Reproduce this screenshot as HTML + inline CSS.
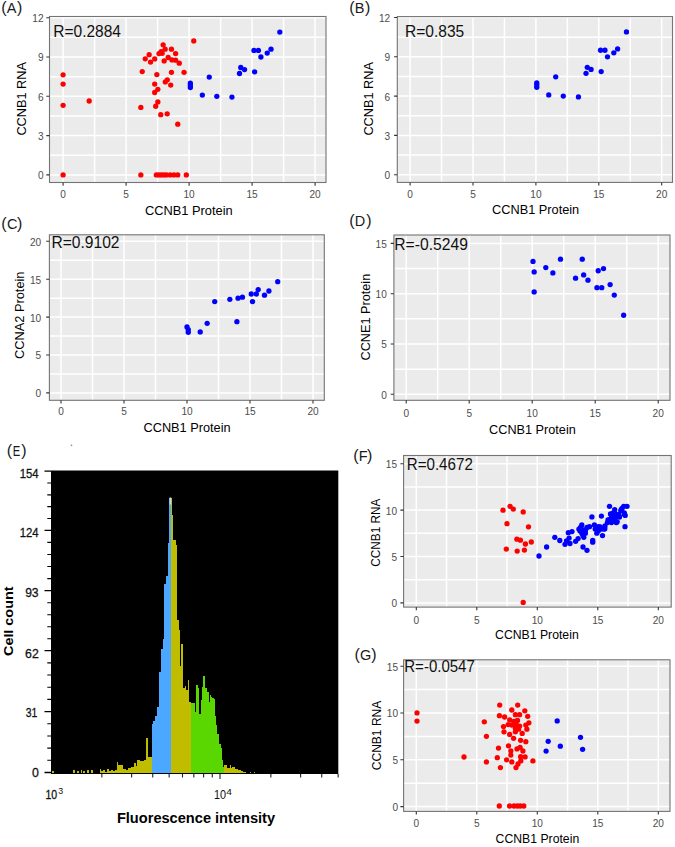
<!DOCTYPE html><html><head><meta charset="utf-8"><style>html,body{margin:0;padding:0;background:#fff;}svg{display:block;}</style></head><body>
<svg width="675" height="847" viewBox="0 0 675 847" font-family='"Liberation Sans", sans-serif'>
<rect width="675" height="847" fill="#fff"/>
<rect x="49.5" y="16.5" width="276.5" height="166" fill="#ebebeb"/>
<path d="M94.6 16.5V182.5M157.6 16.5V182.5M220.6 16.5V182.5M283.6 16.5V182.5M63.1 16.5V182.5M126.1 16.5V182.5M189.1 16.5V182.5M252.1 16.5V182.5M315.1 16.5V182.5M49.5 155.25H326M49.5 115.95H326M49.5 76.65H326M49.5 37.35H326M49.5 174.9H326M49.5 135.6H326M49.5 96.3H326M49.5 57H326M49.5 17.7H326" stroke="#ffffff" stroke-width="1.5" fill="none"/>
<g fill="#ff0000"><circle cx="63.1" cy="74.82" r="2.65"/><circle cx="63.1" cy="84.12" r="2.65"/><circle cx="63.1" cy="105.34" r="2.65"/><circle cx="89.18" cy="101.02" r="2.65"/><circle cx="63.1" cy="174.9" r="2.65"/><circle cx="193.76" cy="40.89" r="2.65"/><circle cx="163.14" cy="44.82" r="2.65"/><circle cx="165.16" cy="49.14" r="2.65"/><circle cx="171.46" cy="49.14" r="2.65"/><circle cx="175.62" cy="53.59" r="2.65"/><circle cx="149.16" cy="54.64" r="2.65"/><circle cx="161.13" cy="51.76" r="2.65"/><circle cx="158.99" cy="53.59" r="2.65"/><circle cx="162.14" cy="53.33" r="2.65"/><circle cx="145.25" cy="58.83" r="2.65"/><circle cx="154.7" cy="58.97" r="2.65"/><circle cx="150.54" cy="62.11" r="2.65"/><circle cx="164.15" cy="60.93" r="2.65"/><circle cx="168.18" cy="57.52" r="2.65"/><circle cx="171.96" cy="59.88" r="2.65"/><circle cx="175.62" cy="60.14" r="2.65"/><circle cx="179.27" cy="63.16" r="2.65"/><circle cx="142.23" cy="71.54" r="2.65"/><circle cx="156.84" cy="74.55" r="2.65"/><circle cx="171.46" cy="72.33" r="2.65"/><circle cx="184.06" cy="72.33" r="2.65"/><circle cx="167.3" cy="79.79" r="2.65"/><circle cx="165.29" cy="81.89" r="2.65"/><circle cx="170.7" cy="85.03" r="2.65"/><circle cx="154.7" cy="84.12" r="2.65"/><circle cx="157.85" cy="89.36" r="2.65"/><circle cx="154.7" cy="92.5" r="2.65"/><circle cx="157.85" cy="101.93" r="2.65"/><circle cx="155.71" cy="106.26" r="2.65"/><circle cx="140.84" cy="107.44" r="2.65"/><circle cx="160.75" cy="114.64" r="2.65"/><circle cx="167.18" cy="113.85" r="2.65"/><circle cx="177.76" cy="124.2" r="2.65"/><circle cx="140.84" cy="174.9" r="2.65"/><circle cx="156.34" cy="174.9" r="2.65"/><circle cx="158.86" cy="174.9" r="2.65"/><circle cx="161.38" cy="174.9" r="2.65"/><circle cx="163.9" cy="174.9" r="2.65"/><circle cx="166.42" cy="174.9" r="2.65"/><circle cx="170.2" cy="174.9" r="2.65"/><circle cx="173.98" cy="174.9" r="2.65"/><circle cx="177.76" cy="174.9" r="2.65"/><circle cx="186.33" cy="174.9" r="2.65"/></g>
<g fill="#0000ff"><circle cx="279.82" cy="32.11" r="2.65"/><circle cx="253.99" cy="50.45" r="2.65"/><circle cx="258.4" cy="50.45" r="2.65"/><circle cx="271" cy="49.14" r="2.65"/><circle cx="267.22" cy="53.07" r="2.65"/><circle cx="260.92" cy="57" r="2.65"/><circle cx="240.76" cy="67.48" r="2.65"/><circle cx="244.54" cy="69.58" r="2.65"/><circle cx="239.5" cy="73.51" r="2.65"/><circle cx="254.62" cy="71.8" r="2.65"/><circle cx="209.26" cy="77.04" r="2.65"/><circle cx="190.36" cy="83.2" r="2.65"/><circle cx="190.36" cy="85.17" r="2.65"/><circle cx="190.36" cy="87.52" r="2.65"/><circle cx="202.33" cy="95.12" r="2.65"/><circle cx="216.82" cy="96.3" r="2.65"/><circle cx="231.94" cy="97.09" r="2.65"/></g>
<rect x="49.5" y="16.5" width="276.5" height="166" fill="none" stroke="#747474" stroke-width="1.1"/>
<path d="M63.1 182.5V185.7M126.1 182.5V185.7M189.1 182.5V185.7M252.1 182.5V185.7M315.1 182.5V185.7M46.3 174.9H49.5M46.3 135.6H49.5M46.3 96.3H49.5M46.3 57H49.5M46.3 17.7H49.5" stroke="#333333" stroke-width="1.1" fill="none"/>
<text x="63.1" y="197.9" font-size="10.1" fill="#4d4d4d" text-anchor="middle">0</text>
<text x="126.1" y="197.9" font-size="10.1" fill="#4d4d4d" text-anchor="middle">5</text>
<text x="189.1" y="197.9" font-size="10.1" fill="#4d4d4d" text-anchor="middle">10</text>
<text x="252.1" y="197.9" font-size="10.1" fill="#4d4d4d" text-anchor="middle">15</text>
<text x="315.1" y="197.9" font-size="10.1" fill="#4d4d4d" text-anchor="middle">20</text>
<text x="43.6" y="179.34" font-size="10.1" fill="#4d4d4d" text-anchor="end">0</text>
<text x="43.6" y="140.04" font-size="10.1" fill="#4d4d4d" text-anchor="end">3</text>
<text x="43.6" y="100.74" font-size="10.1" fill="#4d4d4d" text-anchor="end">6</text>
<text x="43.6" y="61.44" font-size="10.1" fill="#4d4d4d" text-anchor="end">9</text>
<text x="43.6" y="22.14" font-size="10.1" fill="#4d4d4d" text-anchor="end">12</text>
<text x="188.8" y="214.5" font-size="13" fill="#000" text-anchor="middle" textLength="87.8" lengthAdjust="spacingAndGlyphs">CCNB1 Protein</text>
<text transform="translate(26.2 98.8) rotate(-90)" x="0" y="0" font-size="13" fill="#000" text-anchor="middle" textLength="73.6" lengthAdjust="spacingAndGlyphs">CCNB1 RNA</text>
<text x="53.29" y="37.4" font-size="16" fill="#111" textLength="67.68" lengthAdjust="spacingAndGlyphs">R=0.2884</text>
<text x="1.2" y="13.1" font-size="16" fill="#1a1a1a">(</text>
<text x="6.87" y="13.1" font-size="14.5" fill="#1a1a1a">A</text>
<text x="17" y="13.1" font-size="16" fill="#1a1a1a">)</text>
<rect x="397.3" y="16.6" width="275.2" height="165.8" fill="#ebebeb"/>
<path d="M441.55 16.6V182.4M504.45 16.6V182.4M567.35 16.6V182.4M630.25 16.6V182.4M410.1 16.6V182.4M473 16.6V182.4M535.9 16.6V182.4M598.8 16.6V182.4M661.7 16.6V182.4M397.3 155.05H672.5M397.3 115.75H672.5M397.3 76.45H672.5M397.3 37.15H672.5M397.3 174.7H672.5M397.3 135.4H672.5M397.3 96.1H672.5M397.3 56.8H672.5M397.3 17.5H672.5" stroke="#ffffff" stroke-width="1.5" fill="none"/>
<g fill="#0000ff"><circle cx="626.44" cy="31.91" r="2.65"/><circle cx="600.54" cy="50.25" r="2.65"/><circle cx="604.97" cy="50.25" r="2.65"/><circle cx="617.6" cy="48.94" r="2.65"/><circle cx="613.81" cy="52.87" r="2.65"/><circle cx="607.49" cy="56.8" r="2.65"/><circle cx="587.28" cy="67.28" r="2.65"/><circle cx="591.07" cy="69.38" r="2.65"/><circle cx="586.02" cy="73.31" r="2.65"/><circle cx="601.18" cy="71.6" r="2.65"/><circle cx="555.71" cy="76.84" r="2.65"/><circle cx="536.76" cy="83" r="2.65"/><circle cx="536.76" cy="84.96" r="2.65"/><circle cx="536.76" cy="87.32" r="2.65"/><circle cx="548.76" cy="94.92" r="2.65"/><circle cx="563.29" cy="96.1" r="2.65"/><circle cx="578.44" cy="96.89" r="2.65"/></g>
<rect x="397.3" y="16.6" width="275.2" height="165.8" fill="none" stroke="#747474" stroke-width="1.1"/>
<path d="M410.1 182.4V185.6M473 182.4V185.6M535.9 182.4V185.6M598.8 182.4V185.6M661.7 182.4V185.6M394.1 174.7H397.3M394.1 135.4H397.3M394.1 96.1H397.3M394.1 56.8H397.3M394.1 17.5H397.3" stroke="#333333" stroke-width="1.1" fill="none"/>
<text x="410.1" y="197.9" font-size="10.1" fill="#4d4d4d" text-anchor="middle">0</text>
<text x="473" y="197.9" font-size="10.1" fill="#4d4d4d" text-anchor="middle">5</text>
<text x="535.9" y="197.9" font-size="10.1" fill="#4d4d4d" text-anchor="middle">10</text>
<text x="598.8" y="197.9" font-size="10.1" fill="#4d4d4d" text-anchor="middle">15</text>
<text x="661.7" y="197.9" font-size="10.1" fill="#4d4d4d" text-anchor="middle">20</text>
<text x="390.2" y="179.14" font-size="10.1" fill="#4d4d4d" text-anchor="end">0</text>
<text x="390.2" y="139.84" font-size="10.1" fill="#4d4d4d" text-anchor="end">3</text>
<text x="390.2" y="100.54" font-size="10.1" fill="#4d4d4d" text-anchor="end">6</text>
<text x="390.2" y="61.24" font-size="10.1" fill="#4d4d4d" text-anchor="end">9</text>
<text x="390.2" y="21.94" font-size="10.1" fill="#4d4d4d" text-anchor="end">12</text>
<text x="535.65" y="214.3" font-size="13" fill="#000" text-anchor="middle" textLength="87.1" lengthAdjust="spacingAndGlyphs">CCNB1 Protein</text>
<text transform="translate(373.2 98.8) rotate(-90)" x="0" y="0" font-size="13" fill="#000" text-anchor="middle" textLength="73.6" lengthAdjust="spacingAndGlyphs">CCNB1 RNA</text>
<text x="404.99" y="37" font-size="16" fill="#111" textLength="59.18" lengthAdjust="spacingAndGlyphs">R=0.835</text>
<text x="349.2" y="12.8" font-size="16" fill="#1a1a1a">(</text>
<text x="354.7" y="12.8" font-size="14.5" fill="#1a1a1a">B</text>
<text x="364.9" y="12.8" font-size="16" fill="#1a1a1a">)</text>
<rect x="49.4" y="234.8" width="274.9" height="165.5" fill="#ebebeb"/>
<path d="M92.5 234.8V400.3M155.5 234.8V400.3M218.5 234.8V400.3M281.5 234.8V400.3M61 234.8V400.3M124 234.8V400.3M187 234.8V400.3M250 234.8V400.3M313 234.8V400.3M49.4 373.95H324.3M49.4 336.05H324.3M49.4 298.15H324.3M49.4 260.25H324.3M49.4 392.9H324.3M49.4 355H324.3M49.4 317.1H324.3M49.4 279.2H324.3M49.4 241.3H324.3" stroke="#ffffff" stroke-width="1.5" fill="none"/>
<g fill="#0000ff"><circle cx="277.72" cy="281.63" r="2.65"/><circle cx="258.19" cy="289.58" r="2.65"/><circle cx="256.3" cy="293.98" r="2.65"/><circle cx="251.26" cy="293.98" r="2.65"/><circle cx="268.9" cy="291.02" r="2.65"/><circle cx="264.49" cy="295.19" r="2.65"/><circle cx="252.52" cy="301.56" r="2.65"/><circle cx="238.03" cy="298.15" r="2.65"/><circle cx="242.44" cy="297.16" r="2.65"/><circle cx="229.84" cy="299.29" r="2.65"/><circle cx="214.72" cy="301.56" r="2.65"/><circle cx="236.9" cy="321.65" r="2.65"/><circle cx="207.16" cy="323.32" r="2.65"/><circle cx="187" cy="326.95" r="2.65"/><circle cx="188.26" cy="329.61" r="2.65"/><circle cx="188.26" cy="332.26" r="2.65"/><circle cx="200.23" cy="331.88" r="2.65"/></g>
<rect x="49.4" y="234.8" width="274.9" height="165.5" fill="none" stroke="#747474" stroke-width="1.1"/>
<path d="M61 400.3V403.5M124 400.3V403.5M187 400.3V403.5M250 400.3V403.5M313 400.3V403.5M46.2 392.9H49.4M46.2 355H49.4M46.2 317.1H49.4M46.2 279.2H49.4M46.2 241.3H49.4" stroke="#333333" stroke-width="1.1" fill="none"/>
<text x="61" y="415" font-size="10.1" fill="#4d4d4d" text-anchor="middle">0</text>
<text x="124" y="415" font-size="10.1" fill="#4d4d4d" text-anchor="middle">5</text>
<text x="187" y="415" font-size="10.1" fill="#4d4d4d" text-anchor="middle">10</text>
<text x="250" y="415" font-size="10.1" fill="#4d4d4d" text-anchor="middle">15</text>
<text x="313" y="415" font-size="10.1" fill="#4d4d4d" text-anchor="middle">20</text>
<text x="41.2" y="397.34" font-size="10.1" fill="#4d4d4d" text-anchor="end">0</text>
<text x="41.2" y="359.44" font-size="10.1" fill="#4d4d4d" text-anchor="end">5</text>
<text x="41.2" y="321.54" font-size="10.1" fill="#4d4d4d" text-anchor="end">10</text>
<text x="41.2" y="283.64" font-size="10.1" fill="#4d4d4d" text-anchor="end">15</text>
<text x="41.2" y="245.74" font-size="10.1" fill="#4d4d4d" text-anchor="end">20</text>
<text x="187.05" y="432.2" font-size="13" fill="#000" text-anchor="middle" textLength="87.1" lengthAdjust="spacingAndGlyphs">CCNB1 Protein</text>
<text transform="translate(24.2 315.25) rotate(-90)" x="0" y="0" font-size="13" fill="#000" text-anchor="middle" textLength="87.5" lengthAdjust="spacingAndGlyphs">CCNA2 Protein</text>
<text x="51.39" y="248" font-size="16" fill="#111" textLength="68.12" lengthAdjust="spacingAndGlyphs">R=0.9102</text>
<text x="1.3" y="229.1" font-size="16" fill="#1a1a1a">(</text>
<text x="7.06" y="229.1" font-size="14.5" fill="#1a1a1a">C</text>
<text x="17" y="229.1" font-size="16" fill="#1a1a1a">)</text>
<rect x="393.9" y="235" width="276.1" height="165.3" fill="#ebebeb"/>
<path d="M437.7 235V400.3M500.7 235V400.3M563.7 235V400.3M626.7 235V400.3M406.2 235V400.3M469.2 235V400.3M532.2 235V400.3M595.2 235V400.3M658.2 235V400.3M393.9 369.15H670M393.9 318.85H670M393.9 268.55H670M393.9 394.3H670M393.9 344H670M393.9 293.7H670M393.9 243.4H670" stroke="#ffffff" stroke-width="1.5" fill="none"/>
<g fill="#0000ff"><circle cx="533.01" cy="261.41" r="2.65"/><circle cx="534.15" cy="271.97" r="2.65"/><circle cx="534.15" cy="291.89" r="2.65"/><circle cx="545.8" cy="267.54" r="2.65"/><circle cx="552.89" cy="272.88" r="2.65"/><circle cx="560.49" cy="259.19" r="2.65"/><circle cx="582.26" cy="259.19" r="2.65"/><circle cx="575.55" cy="278.21" r="2.65"/><circle cx="583.65" cy="274.89" r="2.65"/><circle cx="587.96" cy="280.22" r="2.65"/><circle cx="598.21" cy="270.76" r="2.65"/><circle cx="603.53" cy="268.55" r="2.65"/><circle cx="596.95" cy="287.66" r="2.65"/><circle cx="601.76" cy="287.66" r="2.65"/><circle cx="610.11" cy="284.55" r="2.65"/><circle cx="614.29" cy="295.11" r="2.65"/><circle cx="623.66" cy="315.23" r="2.65"/></g>
<rect x="393.9" y="235" width="276.1" height="165.3" fill="none" stroke="#747474" stroke-width="1.1"/>
<path d="M406.2 400.3V403.5M469.2 400.3V403.5M532.2 400.3V403.5M595.2 400.3V403.5M658.2 400.3V403.5M390.7 394.3H393.9M390.7 344H393.9M390.7 293.7H393.9M390.7 243.4H393.9" stroke="#333333" stroke-width="1.1" fill="none"/>
<text x="406.2" y="417" font-size="10.1" fill="#4d4d4d" text-anchor="middle">0</text>
<text x="469.2" y="417" font-size="10.1" fill="#4d4d4d" text-anchor="middle">5</text>
<text x="532.2" y="417" font-size="10.1" fill="#4d4d4d" text-anchor="middle">10</text>
<text x="595.2" y="417" font-size="10.1" fill="#4d4d4d" text-anchor="middle">15</text>
<text x="658.2" y="417" font-size="10.1" fill="#4d4d4d" text-anchor="middle">20</text>
<text x="386.8" y="398.74" font-size="10.1" fill="#4d4d4d" text-anchor="end">0</text>
<text x="386.8" y="348.44" font-size="10.1" fill="#4d4d4d" text-anchor="end">5</text>
<text x="386.8" y="298.14" font-size="10.1" fill="#4d4d4d" text-anchor="end">10</text>
<text x="386.8" y="247.84" font-size="10.1" fill="#4d4d4d" text-anchor="end">15</text>
<text x="532.45" y="434.2" font-size="13" fill="#000" text-anchor="middle" textLength="86.7" lengthAdjust="spacingAndGlyphs">CCNB1 Protein</text>
<text transform="translate(369.9 317.15) rotate(-90)" x="0" y="0" font-size="13" fill="#000" text-anchor="middle" textLength="86.7" lengthAdjust="spacingAndGlyphs">CCNE1 Protein</text>
<text x="394.29" y="250" font-size="16" fill="#111" textLength="73.57" lengthAdjust="spacingAndGlyphs">R=-0.5249</text>
<text x="349.2" y="225.6" font-size="16" fill="#1a1a1a">(</text>
<text x="354.7" y="225.6" font-size="14.5" fill="#1a1a1a">D</text>
<text x="366.2" y="225.6" font-size="16" fill="#1a1a1a">)</text>
<rect x="403.6" y="455.5" width="267.6" height="151.6" fill="#ebebeb"/>
<path d="M446.55 455.5V607.1M507.05 455.5V607.1M567.55 455.5V607.1M628.05 455.5V607.1M416.3 455.5V607.1M476.8 455.5V607.1M537.3 455.5V607.1M597.8 455.5V607.1M658.3 455.5V607.1M403.6 579.7H671.2M403.6 533.3H671.2M403.6 486.9H671.2M403.6 602.9H671.2M403.6 556.5H671.2M403.6 510.1H671.2M403.6 463.7H671.2" stroke="#ffffff" stroke-width="1.5" fill="none"/>
<g fill="#ff0000"><circle cx="503" cy="510.2" r="2.65"/><circle cx="510.1" cy="506.3" r="2.65"/><circle cx="513.3" cy="509.1" r="2.65"/><circle cx="523.2" cy="511.9" r="2.65"/><circle cx="507" cy="523.7" r="2.65"/><circle cx="528.5" cy="526.8" r="2.65"/><circle cx="516.9" cy="539.2" r="2.65"/><circle cx="520.4" cy="540.2" r="2.65"/><circle cx="525.4" cy="544" r="2.65"/><circle cx="531.3" cy="542" r="2.65"/><circle cx="506.3" cy="549.1" r="2.65"/><circle cx="517.2" cy="551.1" r="2.65"/><circle cx="524.4" cy="550.1" r="2.65"/><circle cx="523.2" cy="602.4" r="2.65"/></g>
<g fill="#0000ff"><circle cx="539" cy="556" r="2.65"/><circle cx="546.6" cy="547" r="2.65"/><circle cx="554.8" cy="537.3" r="2.65"/><circle cx="559.8" cy="540.5" r="2.65"/><circle cx="565" cy="544.3" r="2.65"/><circle cx="568.3" cy="532.7" r="2.65"/><circle cx="572" cy="531.6" r="2.65"/><circle cx="569.1" cy="538.1" r="2.65"/><circle cx="575.6" cy="541.3" r="2.65"/><circle cx="578.1" cy="538.6" r="2.65"/><circle cx="578.9" cy="529.1" r="2.65"/><circle cx="581.8" cy="525" r="2.65"/><circle cx="583" cy="529.9" r="2.65"/><circle cx="585.4" cy="533.2" r="2.65"/><circle cx="583.8" cy="537.3" r="2.65"/><circle cx="587" cy="527.5" r="2.65"/><circle cx="589.5" cy="526.7" r="2.65"/><circle cx="583" cy="547" r="2.65"/><circle cx="587" cy="550.3" r="2.65"/><circle cx="591.9" cy="516.9" r="2.65"/><circle cx="592.7" cy="540.5" r="2.65"/><circle cx="592.7" cy="542.2" r="2.65"/><circle cx="594.4" cy="525" r="2.65"/><circle cx="595.2" cy="529.1" r="2.65"/><circle cx="596.8" cy="533.2" r="2.65"/><circle cx="598.4" cy="526.7" r="2.65"/><circle cx="601.4" cy="516.1" r="2.65"/><circle cx="602.5" cy="535.6" r="2.65"/><circle cx="601.7" cy="529.1" r="2.65"/><circle cx="605" cy="525.9" r="2.65"/><circle cx="607.4" cy="522.6" r="2.65"/><circle cx="609.5" cy="506.3" r="2.65"/><circle cx="609.9" cy="519.3" r="2.65"/><circle cx="611.5" cy="516.1" r="2.65"/><circle cx="613.1" cy="512.8" r="2.65"/><circle cx="614.7" cy="509.6" r="2.65"/><circle cx="615.6" cy="517.7" r="2.65"/><circle cx="617.2" cy="521.8" r="2.65"/><circle cx="618.8" cy="514.4" r="2.65"/><circle cx="621.3" cy="509.6" r="2.65"/><circle cx="623.7" cy="506.3" r="2.65"/><circle cx="627" cy="506.3" r="2.65"/><circle cx="624.5" cy="514.4" r="2.65"/><circle cx="625" cy="526.7" r="2.65"/><circle cx="611.5" cy="522.6" r="2.65"/><circle cx="614.7" cy="512.8" r="2.65"/><circle cx="580.5" cy="527.5" r="2.65"/><circle cx="583" cy="535.6" r="2.65"/><circle cx="598.4" cy="530.7" r="2.65"/><circle cx="604.2" cy="529.1" r="2.65"/><circle cx="566.5" cy="541" r="2.65"/><circle cx="570" cy="543.5" r="2.65"/><circle cx="612.8" cy="519" r="2.65"/><circle cx="616.3" cy="522.6" r="2.65"/><circle cx="604.8" cy="528.8" r="2.65"/><circle cx="600.3" cy="527" r="2.65"/><circle cx="620.8" cy="510.6" r="2.65"/><circle cx="624.3" cy="512.8" r="2.65"/><circle cx="625.2" cy="515.4" r="2.65"/><circle cx="622" cy="508.5" r="2.65"/><circle cx="580" cy="531" r="2.65"/><circle cx="585.5" cy="530" r="2.65"/><circle cx="582" cy="533.5" r="2.65"/><circle cx="610.5" cy="514" r="2.65"/><circle cx="616" cy="515" r="2.65"/><circle cx="619.5" cy="517" r="2.65"/><circle cx="608" cy="520" r="2.65"/></g>
<rect x="403.6" y="455.5" width="267.6" height="151.6" fill="none" stroke="#747474" stroke-width="1.1"/>
<path d="M416.3 607.1V610.3M476.8 607.1V610.3M537.3 607.1V610.3M597.8 607.1V610.3M658.3 607.1V610.3M400.4 602.9H403.6M400.4 556.5H403.6M400.4 510.1H403.6M400.4 463.7H403.6" stroke="#333333" stroke-width="1.1" fill="none"/>
<text x="416.3" y="624" font-size="10.1" fill="#4d4d4d" text-anchor="middle">0</text>
<text x="476.8" y="624" font-size="10.1" fill="#4d4d4d" text-anchor="middle">5</text>
<text x="537.3" y="624" font-size="10.1" fill="#4d4d4d" text-anchor="middle">10</text>
<text x="597.8" y="624" font-size="10.1" fill="#4d4d4d" text-anchor="middle">15</text>
<text x="658.3" y="624" font-size="10.1" fill="#4d4d4d" text-anchor="middle">20</text>
<text x="397" y="607.34" font-size="10.1" fill="#4d4d4d" text-anchor="end">0</text>
<text x="397" y="560.94" font-size="10.1" fill="#4d4d4d" text-anchor="end">5</text>
<text x="397" y="514.54" font-size="10.1" fill="#4d4d4d" text-anchor="end">10</text>
<text x="397" y="468.14" font-size="10.1" fill="#4d4d4d" text-anchor="end">15</text>
<text x="536.9" y="638.8" font-size="12.2" fill="#000" text-anchor="middle" textLength="83.6" lengthAdjust="spacingAndGlyphs">CCNB1 Protein</text>
<text transform="translate(380.3 532.7) rotate(-90)" x="0" y="0" font-size="12.2" fill="#000" text-anchor="middle" textLength="68" lengthAdjust="spacingAndGlyphs">CCNB1 RNA</text>
<text x="406.69" y="470" font-size="16" fill="#111" textLength="66.12" lengthAdjust="spacingAndGlyphs">R=0.4672</text>
<text x="353.3" y="460.6" font-size="16" fill="#1a1a1a">(</text>
<text x="358.8" y="460.6" font-size="14.5" fill="#1a1a1a">F</text>
<text x="366.9" y="460.6" font-size="16" fill="#1a1a1a">)</text>
<rect x="403.6" y="659.8" width="266.4" height="151.6" fill="#ebebeb"/>
<path d="M446.55 659.8V811.4M507.05 659.8V811.4M567.55 659.8V811.4M628.05 659.8V811.4M416.3 659.8V811.4M476.8 659.8V811.4M537.3 659.8V811.4M597.8 659.8V811.4M658.3 659.8V811.4M403.6 783.2H670M403.6 736.4H670M403.6 689.6H670M403.6 806.6H670M403.6 759.8H670M403.6 713H670M403.6 666.2H670" stroke="#ffffff" stroke-width="1.5" fill="none"/>
<g fill="#ff0000"><circle cx="417" cy="712.9" r="2.65"/><circle cx="417" cy="721.1" r="2.65"/><circle cx="464" cy="757" r="2.65"/><circle cx="499.7" cy="705.1" r="2.65"/><circle cx="517.7" cy="705.1" r="2.65"/><circle cx="511.8" cy="710" r="2.65"/><circle cx="524.8" cy="710.8" r="2.65"/><circle cx="499.4" cy="715.7" r="2.65"/><circle cx="504.6" cy="717" r="2.65"/><circle cx="515.4" cy="714.7" r="2.65"/><circle cx="519.6" cy="714.7" r="2.65"/><circle cx="527.7" cy="716.3" r="2.65"/><circle cx="484.3" cy="721.8" r="2.65"/><circle cx="509.7" cy="719.9" r="2.65"/><circle cx="513.9" cy="721.4" r="2.65"/><circle cx="517.5" cy="720.4" r="2.65"/><circle cx="528.9" cy="722.8" r="2.65"/><circle cx="525.8" cy="725.1" r="2.65"/><circle cx="508.2" cy="724.6" r="2.65"/><circle cx="511.8" cy="725.1" r="2.65"/><circle cx="516.5" cy="725.1" r="2.65"/><circle cx="519.6" cy="726.1" r="2.65"/><circle cx="503.5" cy="726.6" r="2.65"/><circle cx="515.4" cy="728.2" r="2.65"/><circle cx="518.6" cy="729.2" r="2.65"/><circle cx="526.9" cy="729.2" r="2.65"/><circle cx="504" cy="731.8" r="2.65"/><circle cx="509.7" cy="734.4" r="2.65"/><circle cx="515.4" cy="731.8" r="2.65"/><circle cx="522.2" cy="733.4" r="2.65"/><circle cx="486.4" cy="736.3" r="2.65"/><circle cx="513.6" cy="738.3" r="2.65"/><circle cx="520.6" cy="740.3" r="2.65"/><circle cx="525.8" cy="741.7" r="2.65"/><circle cx="498.5" cy="748.1" r="2.65"/><circle cx="508.5" cy="745.8" r="2.65"/><circle cx="510.8" cy="751" r="2.65"/><circle cx="517" cy="748.9" r="2.65"/><circle cx="520.1" cy="747.4" r="2.65"/><circle cx="522.9" cy="751" r="2.65"/><circle cx="510.8" cy="755.1" r="2.65"/><circle cx="497.3" cy="757.7" r="2.65"/><circle cx="520.6" cy="756.7" r="2.65"/><circle cx="525.1" cy="756.9" r="2.65"/><circle cx="506.6" cy="759.8" r="2.65"/><circle cx="511.8" cy="761.9" r="2.65"/><circle cx="520.8" cy="760.9" r="2.65"/><circle cx="532.9" cy="760.9" r="2.65"/><circle cx="486.4" cy="761.9" r="2.65"/><circle cx="518" cy="764" r="2.65"/><circle cx="500.4" cy="767.6" r="2.65"/><circle cx="516" cy="767.6" r="2.65"/><circle cx="499.3" cy="806" r="2.65"/><circle cx="509.6" cy="806" r="2.65"/><circle cx="514" cy="806" r="2.65"/><circle cx="517.3" cy="806" r="2.65"/><circle cx="520.2" cy="806" r="2.65"/><circle cx="523.8" cy="806" r="2.65"/></g>
<g fill="#0000ff"><circle cx="557.2" cy="720.9" r="2.65"/><circle cx="548.2" cy="741.3" r="2.65"/><circle cx="560.3" cy="746.2" r="2.65"/><circle cx="546.1" cy="751.1" r="2.65"/><circle cx="580.5" cy="737.3" r="2.65"/><circle cx="582.6" cy="749.3" r="2.65"/></g>
<rect x="403.6" y="659.8" width="266.4" height="151.6" fill="none" stroke="#747474" stroke-width="1.1"/>
<path d="M416.3 811.4V814.6M476.8 811.4V814.6M537.3 811.4V814.6M597.8 811.4V814.6M658.3 811.4V814.6M400.4 806.6H403.6M400.4 759.8H403.6M400.4 713H403.6M400.4 666.2H403.6" stroke="#333333" stroke-width="1.1" fill="none"/>
<text x="416.3" y="827" font-size="10.1" fill="#4d4d4d" text-anchor="middle">0</text>
<text x="476.8" y="827" font-size="10.1" fill="#4d4d4d" text-anchor="middle">5</text>
<text x="537.3" y="827" font-size="10.1" fill="#4d4d4d" text-anchor="middle">10</text>
<text x="597.8" y="827" font-size="10.1" fill="#4d4d4d" text-anchor="middle">15</text>
<text x="658.3" y="827" font-size="10.1" fill="#4d4d4d" text-anchor="middle">20</text>
<text x="398" y="811.04" font-size="10.1" fill="#4d4d4d" text-anchor="end">0</text>
<text x="398" y="764.24" font-size="10.1" fill="#4d4d4d" text-anchor="end">5</text>
<text x="398" y="717.44" font-size="10.1" fill="#4d4d4d" text-anchor="end">10</text>
<text x="398" y="670.64" font-size="10.1" fill="#4d4d4d" text-anchor="end">15</text>
<text x="537.4" y="842.5" font-size="12.2" fill="#000" text-anchor="middle" textLength="83.6" lengthAdjust="spacingAndGlyphs">CCNB1 Protein</text>
<text transform="translate(381.3 735.45) rotate(-90)" x="0" y="0" font-size="12.2" fill="#000" text-anchor="middle" textLength="69.5" lengthAdjust="spacingAndGlyphs">CCNB1 RNA</text>
<text x="404.29" y="672.4" font-size="16" fill="#111" textLength="70.52" lengthAdjust="spacingAndGlyphs">R=-0.0547</text>
<text x="354.4" y="660.3" font-size="16" fill="#1a1a1a">(</text>
<text x="359.9" y="660.3" font-size="14.5" fill="#1a1a1a">G</text>
<text x="371.2" y="660.3" font-size="16" fill="#1a1a1a">)</text>
<rect x="51" y="470.5" width="287.3" height="303.5" fill="#000"/>
<g shape-rendering="crispEdges">
<path d="M52 772.8L52 771L53.5 771L53.5 772.8L73 772.8L73 770L75 770L75 772.8L77 772.8L77 770.5L79 770.5L79 772.8L80.5 772.8L80.5 770L82 770L82 772.8L83 772.8L83 770.5L84.5 770.5L84.5 772.8L87 772.8L87 769.5L88.5 769.5L88.5 772.8L90.8 772.8L90.8 770L92.5 770L92.5 772.8L99.5 772.8L99.5 768.5L101 768.5L101 771L103 771L103 769.5L105 769.5L105 771.5L107 771.5L107 769L109 769L109 771L111 771L111 770L113 770L113 770.5L115 770.5L115 770L116.5 770L116.5 761.7L117.8 761.7L117.8 765L120 765L120 764.5L123.3 764.5L123.3 768.5L126 768.5L126 769.8L127.8 769.8L127.8 767.5L131 767.5L131 767L134.3 767L134.3 762.8L135.5 762.8L135.5 766L137 766L137 759.7L140.3 759.7L140.3 760.5L141.8 760.5L141.8 761.2L144 761.2L144 760L146.2 760L146.2 737.9L147.8 737.9L147.8 757.3L149.5 757.3L149.5 757L152 757L152 757L152 772.8Z" fill="#c0bd00"/>
<path d="M224.2 772.8L224.2 764.6L226.8 764.6L226.8 768L229.6 768L229.6 764.6L231 764.6L231 768L232.4 768L232.4 767L235 767L235 768.5L238 768.5L238 770L240.8 770L240.8 771L243 771L243 771.5L246.4 771.5L246.4 772.8L249.9 772.8L249.9 771.5L251 771.5L251 772.8L253.5 772.8L253.5 771.5L254.7 771.5L254.7 772.8L254.7 772.8Z" fill="#c0bd00"/>
<path d="M151.9 772.8L151.9 724L153 724L153 721L155 721L155 716L157 716L157 707L159.1 707L159.1 672L160.5 672L160.5 649L162.5 649L162.5 638.5L164.1 638.5L164.1 584L165.7 584L165.7 576L168.1 576L168.1 543L169.4 543L169.4 497.5L171 497.5L171 497.5L171 772.8Z" fill="#4ba7ff"/>
<path d="M170.9 772.8L170.9 497.5L171.5 497.5L171.5 515L173.3 515L173.3 540L175.7 540L175.7 545L176.5 545L176.5 619L177.3 619L177.3 620L178.5 620L178.5 627L179.2 627L179.2 630L180.2 630L180.2 666L181.2 666L181.2 644L182.5 644L182.5 687.6L185.2 687.6L185.2 685.8L186.4 685.8L186.4 690L188 690L188 680.3L188.9 680.3L188.9 702.3L190.8 702.3L190.8 702.3L190.8 772.8Z" fill="#c0bd00"/>
<path d="M190.7 772.8L190.7 703.2L192.7 703.2L192.7 702.5L194.8 702.5L194.8 712L196.2 712L196.2 685.1L197.5 685.1L197.5 688L199 688L199 714.4L201 714.4L201 700L201.7 700L201.7 686.5L203.1 686.5L203.1 676L204.5 676L204.5 680L205.2 680L205.2 688L207.3 688L207.3 692L208.7 692L208.7 701.8L210.1 701.8L210.1 694.9L211.2 694.9L211.2 697L212.2 697L212.2 697.7L214.3 697.7L214.3 699.4L215 699.4L215 715.8L216.4 715.8L216.4 725L217.1 725L217.1 733.9L218.5 733.9L218.5 743.7L220.6 743.7L220.6 747.9L222 747.9L222 760.4L223.4 760.4L223.4 767.4L224.3 767.4L224.3 767.4L224.3 772.8Z" fill="#5ad700"/>
</g>
<rect x="169.6" y="497.5" width="1.6" height="7" fill="#c8d8f0"/>
<path d="M44.5 471.2H51M44.5 530.3H51M44.5 590.7H51M44.5 650.7H51M44.5 711.6H51M44.5 772.5H51" stroke="#000" stroke-width="1.3" fill="none"/>
<path d="M47.3 483.02H51M47.3 494.84H51M47.3 506.66H51M47.3 518.48H51M47.3 542.38H51M47.3 554.46H51M47.3 566.54H51M47.3 578.62H51M47.3 602.7H51M47.3 614.7H51M47.3 626.7H51M47.3 638.7H51M47.3 662.88H51M47.3 675.06H51M47.3 687.24H51M47.3 699.42H51M47.3 723.78H51M47.3 735.96H51M47.3 748.14H51M47.3 760.32H51" stroke="#000" stroke-width="1.1" fill="none"/>
<path d="M101.87 774V777.5M131.63 774V777.5M152.75 774V777.5M169.13 774V777.5M182.51 774V777.5M193.82 774V777.5M203.62 774V777.5M212.27 774V777.5M220 774V779M270.87 774V777.5M300.63 774V777.5M321.75 774V777.5M338.13 774V777.5" stroke="#222" stroke-width="1.1" fill="none"/>
<text x="19.64" y="477.90" font-size="13.2" fill="#111" textLength="18.89" lengthAdjust="spacingAndGlyphs" stroke="#111" stroke-width="0.3">154</text>
<text x="19.64" y="536.60" font-size="13.2" fill="#111" textLength="18.89" lengthAdjust="spacingAndGlyphs" stroke="#111" stroke-width="0.3">124</text>
<text x="25.13" y="597.30" font-size="13.2" fill="#111" textLength="13.50" lengthAdjust="spacingAndGlyphs" stroke="#111" stroke-width="0.3">93</text>
<text x="25.08" y="658.00" font-size="13.2" fill="#111" textLength="13.64" lengthAdjust="spacingAndGlyphs" stroke="#111" stroke-width="0.3">62</text>
<text x="25.80" y="717.30" font-size="13.2" fill="#111" textLength="11.61" lengthAdjust="spacingAndGlyphs" stroke="#111" stroke-width="0.3">31</text>
<text x="32.02" y="777.40" font-size="13.2" fill="#111" textLength="6.86" lengthAdjust="spacingAndGlyphs" stroke="#111" stroke-width="0.3">0</text>
<text x="45.40" y="798.80" font-size="13.2" fill="#111" textLength="11.71" lengthAdjust="spacingAndGlyphs" stroke="#111" stroke-width="0.3">10</text>
<text x="58.26" y="793.80" font-size="9" fill="#111" textLength="4.93" lengthAdjust="spacingAndGlyphs">3</text>
<text x="213.97" y="799.10" font-size="12.5" fill="#111" textLength="12.05" lengthAdjust="spacingAndGlyphs">10</text>
<text x="226.37" y="794.60" font-size="8.5" fill="#111" textLength="5.63" lengthAdjust="spacingAndGlyphs">4</text>
<text transform="translate(13.2 621.25) rotate(-90)" font-size="13" font-weight="bold" fill="#000" text-anchor="middle" textLength="69.5" lengthAdjust="spacingAndGlyphs">Cell count</text>
<text x="196" y="822.8" font-size="14" font-weight="bold" fill="#000" text-anchor="middle" textLength="158.2" lengthAdjust="spacingAndGlyphs">Fluorescence intensity</text>
<text x="6.8" y="455.6" font-size="16" fill="#1a1a1a">(</text>
<text x="12.8" y="455.6" font-size="14.5" fill="#1a1a1a" textLength="7.5" lengthAdjust="spacingAndGlyphs">E</text>
<text x="21.2" y="455.6" font-size="16" fill="#1a1a1a">)</text>
<circle cx="71.5" cy="445.4" r="0.8" fill="#8a8a9a"/>
</svg></body></html>
